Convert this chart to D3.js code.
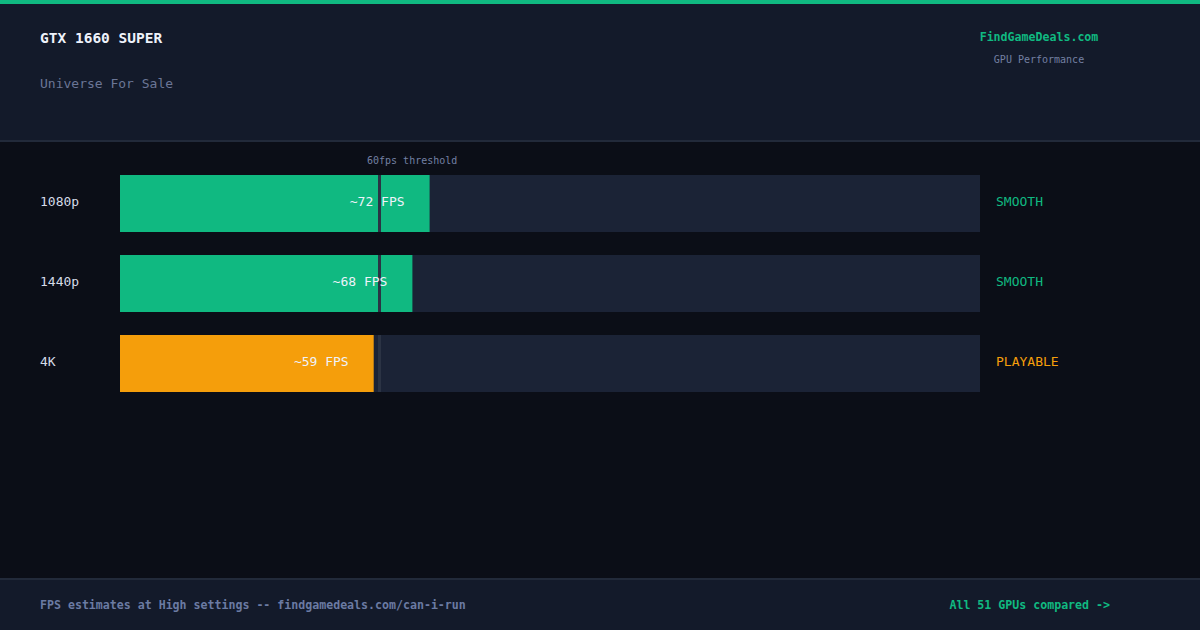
<!DOCTYPE html>
<html>
<head>
<meta charset="utf-8">
<script src="https://cdn.jsdelivr.net/npm/d3@7"></script>
<style>
  html, body { margin: 0; padding: 0; background: #0b0e17; }
  svg { display: block; font-family: "DejaVu Sans Mono", "Liberation Mono", monospace; }
</style>
</head>
<body>
<div id="chart"></div>
<script>
// Data
const resolutions = ["1080p", "1440p", "4K"];
const fpsValues = [72, 68, 59];
const ratings = ["SMOOTH", "SMOOTH", "PLAYABLE"];
const threshold = 60;
const fpsMax = 200;

const W = 1200, H = 630;
const green = "#10b981", orange = "#f59e0b";

const svg = d3.select("#chart")
  .append("svg")
  .attr("width", W)
  .attr("height", H);

// Backgrounds
svg.append("rect").attr("width", W).attr("height", H).attr("fill", "#0b0e17");
svg.append("rect").attr("y", 0).attr("width", W).attr("height", 140).attr("fill", "#131a2a");
svg.append("rect").attr("y", 0).attr("width", W).attr("height", 4).attr("fill", green);
svg.append("rect").attr("y", 140).attr("width", W).attr("height", 2).attr("fill", "#222a3a");
svg.append("rect").attr("y", 578).attr("width", W).attr("height", 52).attr("fill", "#131a2a");
svg.append("rect").attr("y", 578).attr("width", W).attr("height", 2).attr("fill", "#222a3a");

// Header text
svg.append("text")
  .attr("x", 40).attr("y", 43)
  .attr("fill", "#eef2fa")
  .style("font-size", "14.5px").style("font-weight", "bold")
  .text("GTX 1660 SUPER");

svg.append("text")
  .attr("x", 40).attr("y", 88)
  .attr("fill", "#6b7696")
  .style("font-size", "13px")
  .text("Universe For Sale");

svg.append("text")
  .attr("x", 1039).attr("y", 41)
  .attr("text-anchor", "middle")
  .attr("fill", green)
  .style("font-size", "11.6px").style("font-weight", "bold")
  .text("FindGameDeals.com");

svg.append("text")
  .attr("x", 1039).attr("y", 63)
  .attr("text-anchor", "middle")
  .attr("fill", "#7380a3")
  .style("font-size", "10px")
  .text("GPU Performance");

// Scales
const x = d3.scaleLinear()
  .domain([0, fpsMax])
  .range([120, 980]);

const y = d3.scaleBand()
  .domain(resolutions)
  .range([175, 392])
  .paddingInner(0.2875)
  .paddingOuter(0);

const rows = resolutions.map((r, i) => ({
  res: r, fps: fpsValues[i], rating: ratings[i]
}));
const colorFor = d => d.rating === "PLAYABLE" ? orange : green;
const midY = d => y(d.res) + y.bandwidth() / 2 - 2;

// Threshold label
svg.append("text")
  .attr("x", x(threshold) - 11).attr("y", 164)
  .attr("fill", "#7380a3")
  .style("font-size", "10px")
  .text(`${threshold}fps threshold`);

const row = svg.selectAll("g.row")
  .data(rows)
  .enter().append("g")
  .attr("class", "row");

// Track
row.append("rect")
  .attr("x", x(0))
  .attr("y", d => y(d.res))
  .attr("width", x(fpsMax) - x(0))
  .attr("height", y.bandwidth())
  .attr("fill", "#1b2336");

// Bar
row.append("rect")
  .attr("x", x(0))
  .attr("y", d => y(d.res))
  .attr("width", d => x(d.fps) - x(0))
  .attr("height", y.bandwidth())
  .attr("fill", colorFor);

// Threshold marker
row.append("rect")
  .attr("x", Math.round(x(threshold)))
  .attr("y", d => y(d.res))
  .attr("width", 3)
  .attr("height", y.bandwidth())
  .attr("fill", "#2b3344");

// Row labels
row.append("text")
  .attr("x", 40)
  .attr("y", midY)
  .attr("dominant-baseline", "central")
  .attr("fill", "#d5dbe8")
  .style("font-size", "13px")
  .text(d => d.res);

// FPS values inside bars
row.append("text")
  .attr("x", d => x(d.fps) - 25)
  .attr("y", midY)
  .attr("dominant-baseline", "central")
  .attr("text-anchor", "end")
  .attr("fill", "#eef2fa")
  .style("font-size", "13px")
  .text(d => `~${d.fps} FPS`);

// Ratings
row.append("text")
  .attr("x", x(fpsMax) + 16)
  .attr("y", midY)
  .attr("dominant-baseline", "central")
  .attr("fill", colorFor)
  .style("font-size", "13px")
  .text(d => d.rating);

// Footer
svg.append("text")
  .attr("x", 40).attr("y", 609)
  .attr("fill", "#6b7ba3")
  .style("font-size", "11.6px").style("font-weight", "bold")
  .text("FPS estimates at High settings -- findgamedeals.com/can-i-run");

svg.append("text")
  .attr("x", 1110).attr("y", 609)
  .attr("text-anchor", "end")
  .attr("fill", green)
  .style("font-size", "11.6px").style("font-weight", "bold")
  .text("All 51 GPUs compared ->");
</script>
</body>
</html>
